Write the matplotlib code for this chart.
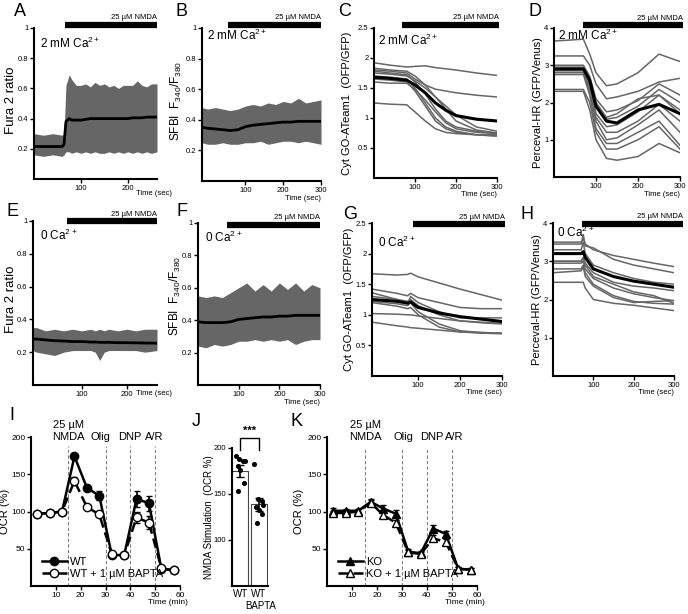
import numpy as np
import matplotlib
matplotlib.use("Agg")
import matplotlib.pyplot as plt
from matplotlib.lines import Line2D

plt.rcParams['font.family'] = ['Liberation Sans', 'DejaVu Sans']
plt.rcParams['mathtext.default'] = 'regular'

W, H = 688, 614
GRAY = '#666666'

# ---------------- data: dense bands (envelopes + mean) ----------------
tA = [0, 20, 40, 60, 64, 68, 75, 80, 90, 100, 110, 120, 130, 140, 150, 160, 170, 180, 190, 200, 210, 220, 230, 240, 250, 262]
A_up = [0.30, 0.29, 0.30, 0.29, 0.30, 0.62, 0.69, 0.66, 0.62, 0.62, 0.63, 0.61, 0.64, 0.62, 0.63, 0.61, 0.62, 0.60, 0.62, 0.62, 0.62, 0.65, 0.62, 0.61, 0.63, 0.63]
A_lo = [0.16, 0.15, 0.16, 0.15, 0.16, 0.18, 0.18, 0.17, 0.18, 0.17, 0.18, 0.17, 0.18, 0.17, 0.17, 0.18, 0.17, 0.18, 0.17, 0.18, 0.17, 0.18, 0.17, 0.18, 0.17, 0.18]
A_mean = [0.215, 0.215, 0.215, 0.215, 0.23, 0.38, 0.40, 0.39, 0.39, 0.39, 0.395, 0.40, 0.40, 0.40, 0.40, 0.40, 0.40, 0.40, 0.40, 0.40, 0.405, 0.405, 0.405, 0.41, 0.41, 0.41]

tB = [-15, 0, 20, 40, 60, 80, 100, 120, 140, 160, 180, 200, 220, 240, 260, 280, 300]
B_up = [0.48, 0.47, 0.48, 0.47, 0.46, 0.47, 0.49, 0.50, 0.49, 0.51, 0.50, 0.52, 0.51, 0.54, 0.51, 0.52, 0.53]
B_lo = [0.25, 0.24, 0.24, 0.25, 0.24, 0.24, 0.25, 0.25, 0.26, 0.24, 0.25, 0.26, 0.26, 0.25, 0.26, 0.25, 0.24]
B_mean = [0.35, 0.345, 0.34, 0.335, 0.33, 0.335, 0.355, 0.365, 0.37, 0.375, 0.38, 0.385, 0.385, 0.39, 0.39, 0.39, 0.39]

tE = [-8, 0, 20, 40, 60, 80, 100, 120, 130, 140, 150, 160, 180, 200, 220, 240, 267]
E_up = [0.35, 0.35, 0.33, 0.34, 0.33, 0.34, 0.33, 0.34, 0.33, 0.34, 0.33, 0.34, 0.33, 0.34, 0.33, 0.34, 0.34]
E_lo = [0.21, 0.20, 0.19, 0.18, 0.20, 0.21, 0.21, 0.21, 0.20, 0.15, 0.20, 0.21, 0.21, 0.21, 0.21, 0.20, 0.21]
E_mean = [0.28, 0.28, 0.275, 0.27, 0.268, 0.265, 0.265, 0.262, 0.262, 0.26, 0.26, 0.26, 0.258, 0.258, 0.257, 0.256, 0.255]

tF = [0, 20, 40, 60, 80, 100, 120, 140, 160, 180, 200, 220, 240, 260, 280, 300]
F_up = [0.55, 0.54, 0.55, 0.54, 0.57, 0.60, 0.63, 0.58, 0.62, 0.58, 0.63, 0.59, 0.63, 0.58, 0.62, 0.60]
F_lo = [0.24, 0.23, 0.25, 0.24, 0.25, 0.27, 0.27, 0.28, 0.27, 0.28, 0.27, 0.28, 0.25, 0.27, 0.28, 0.28]
F_mean = [0.39, 0.385, 0.385, 0.385, 0.39, 0.405, 0.41, 0.415, 0.42, 0.42, 0.425, 0.425, 0.43, 0.43, 0.43, 0.43]

# ---------------- data: individual traces ----------------
tC = [0, 40, 80, 100, 125, 150, 175, 200, 250, 300]
C_traces = [
    [1.92, 1.88, 1.85, 1.86, 1.87, 1.84, 1.82, 1.80, 1.75, 1.71],
    [1.80, 1.78, 1.75, 1.65, 1.55, 1.48, 1.45, 1.42, 1.38, 1.35],
    [1.83, 1.80, 1.78, 1.70, 1.55, 1.35, 1.15, 0.95, 0.80, 0.75],
    [1.78, 1.75, 1.72, 1.60, 1.40, 1.15, 0.95, 0.85, 0.78, 0.75],
    [1.70, 1.68, 1.65, 1.50, 1.25, 1.00, 0.85, 0.78, 0.72, 0.70],
    [1.65, 1.63, 1.60, 1.45, 1.20, 0.95, 0.82, 0.76, 0.72, 0.70],
    [1.60, 1.58, 1.58, 1.48, 1.30, 1.10, 0.92, 0.82, 0.76, 0.74],
    [1.75, 1.73, 1.70, 1.62, 1.50, 1.35, 1.20, 1.05, 0.85, 0.78],
    [1.25, 1.23, 1.22, 1.10, 0.95, 0.82, 0.76, 0.74, 0.72, 0.72],
]
C_mean = [1.68, 1.66, 1.63, 1.55, 1.42, 1.25, 1.13, 1.04, 0.98, 0.95]

tD = [0, 70, 85, 100, 125, 150, 200, 250, 300]
D_traces = [
    [3.65, 3.70, 3.30, 2.80, 2.45, 2.50, 2.80, 3.30, 3.10],
    [3.25, 3.25, 3.00, 2.50, 2.10, 2.15, 2.30, 2.55, 2.65],
    [3.00, 3.00, 2.70, 2.10, 1.75, 1.80, 2.05, 2.50, 2.20],
    [2.95, 2.95, 2.60, 1.90, 1.55, 1.60, 1.90, 2.35, 2.00],
    [2.90, 2.90, 2.50, 1.70, 1.35, 1.40, 1.75, 2.20, 1.70],
    [2.85, 2.85, 2.40, 1.60, 1.20, 1.20, 1.50, 1.95, 1.50],
    [2.80, 2.80, 2.30, 1.50, 1.00, 1.05, 1.40, 1.80, 1.20],
    [2.75, 2.75, 2.20, 1.30, 0.90, 0.90, 1.20, 1.50, 0.85],
    [2.35, 2.35, 2.00, 1.20, 0.75, 0.75, 1.00, 1.35, 0.75],
    [2.30, 2.30, 1.80, 1.00, 0.50, 0.45, 0.55, 0.90, 0.65],
    [2.90, 2.90, 2.60, 2.00, 1.60, 1.70, 2.10, 2.20, 1.80],
]
D_mean = [2.90, 2.90, 2.60, 1.90, 1.50, 1.45, 1.80, 1.95, 1.70]

tG = [-10, 50, 75, 82, 100, 150, 200, 250, 300]
G_traces = [
    [1.67, 1.65, 1.66, 1.68, 1.62, 1.52, 1.42, 1.33, 1.24],
    [1.42, 1.35, 1.31, 1.35, 1.28, 1.20, 1.12, 1.10, 1.10],
    [1.36, 1.25, 1.18, 1.30, 1.20, 1.05, 0.95, 0.95, 0.95],
    [1.30, 1.25, 1.22, 1.25, 1.15, 1.00, 0.90, 0.87, 0.85],
    [1.02, 1.01, 1.00, 1.00, 0.98, 0.94, 0.90, 0.88, 0.86],
    [0.88, 0.82, 0.80, 0.79, 0.78, 0.75, 0.72, 0.71, 0.70],
    [1.22, 1.18, 1.15, 1.20, 1.05, 0.85, 0.74, 0.71, 0.70],
    [1.20, 1.14, 1.10, 1.12, 1.00, 0.80, 0.72, 0.70, 0.69],
]
G_mean = [1.25, 1.22, 1.19, 1.21, 1.12, 1.03, 0.97, 0.93, 0.89]

tH = [0, 70, 75, 80, 100, 150, 200, 250, 300]
H_traces = [
    [3.50, 3.50, 3.60, 3.45, 3.30, 3.15, 3.05, 2.95, 2.86],
    [3.45, 3.45, 3.70, 3.40, 3.35, 3.05, 2.90, 2.80, 2.70],
    [3.30, 3.30, 3.50, 3.20, 2.90, 2.70, 2.55, 2.45, 2.40],
    [3.00, 3.00, 3.10, 2.95, 2.70, 2.45, 2.35, 2.30, 2.23],
    [2.95, 2.95, 3.00, 2.80, 2.55, 2.30, 2.15, 2.05, 1.97],
    [2.80, 2.80, 2.90, 2.70, 2.40, 2.10, 1.95, 1.90, 1.88],
    [2.70, 2.75, 2.85, 2.60, 2.35, 2.05, 1.92, 1.95, 1.97],
    [2.45, 2.45, 2.45, 2.30, 2.00, 1.90, 1.85, 1.78, 1.71],
    [3.00, 3.00, 3.10, 2.90, 2.60, 2.40, 2.20, 2.10, 1.90],
]
H_mean = [3.20, 3.20, 3.25, 3.10, 2.80, 2.60, 2.48, 2.40, 2.32]

# ---------------- data: OCR time courses ----------------
t_ocr = [2.5, 7.5, 12.5, 17.5, 22.5, 27.5, 32.5, 37.5, 42.5, 47.5, 52.5, 57.5]
wt = [97, 98, 100, 174, 132, 121, 42, 41, 117, 111, 23, 21]
wt_err = [2, 2, 2, 3, 3, 6, 2, 2, 11, 10, 2, 2]
wt_bapta = [97, 98, 100, 141, 106, 96, 43, 41, 92, 85, 24, 21]
wt_bapta_err = [2, 2, 2, 5, 3, 3, 2, 2, 8, 9, 2, 2]
ko = [101, 101, 101, 113, 104, 97, 46, 44, 77, 70, 23, 22]
ko_err = [4, 3, 2, 4, 5, 5, 3, 3, 5, 4, 2, 2]
ko_bapta = [98, 98, 100, 112, 95, 85, 45, 43, 64, 59, 23, 22]
ko_bapta_err = [3, 3, 3, 4, 4, 4, 3, 3, 4, 4, 2, 2]
drug_times = [15, 30, 40, 50]

# ---------------- data: NMDA stimulation bars ----------------
j_groups = ['WT', 'WT']
j_means = [175, 139]
j_sem = [6, 7]
j_wt_pts = [191, 188, 186, 186, 180, 176, 162, 153]
j_bapta_pts = [183, 145, 142, 138, 136, 133, 128, 119]

fig = plt.figure(figsize=(W / 100, H / 100), dpi=100)


def px_ax(l, t, r, b):
    return fig.add_axes([l / W, 1 - b / H, (r - l) / W, (b - t) / H])


def style(ax, fs=5.5):
    for s in ['top', 'right']:
        ax.spines[s].set_visible(False)
    for s in ['left', 'bottom']:
        ax.spines[s].set_linewidth(1.5)
    ax.tick_params(direction='out', length=3, width=1, labelsize=fs, pad=1)


def nmda_bar(ax, t0, t1, y, ty):
    ax.plot([t0, t1], [y, y], color='black', lw=4.5, solid_capstyle='butt', clip_on=False)
    ax.text(t1, ty, '25 µM NMDA', ha='right', va='bottom', fontsize=5.5)


def time_label(ax, x, y, ha='right'):
    ax.text(x, y, 'Time (sec)', transform=ax.transAxes, ha=ha, va='center', fontsize=5.5)


def fmt(v):
    return ('%g' % v)


# ---- A ----
ax = px_ax(34, 28, 157, 179)
style(ax)
ax.fill_between(tA, A_lo, A_up, color=GRAY, lw=0)
ax.plot(tA, A_mean, color='black', lw=2)
ax.set_xlim(0, 262); ax.set_ylim(0, 1)
ax.set_xticks([100, 200]); ax.set_yticks([0.2, 0.4, 0.6, 0.8, 1])
ax.set_yticklabels([fmt(v) for v in [0.2, 0.4, 0.6, 0.8, 1]])
ax.set_ylabel('Fura 2 ratio', fontsize=9.5)
ax.yaxis.set_label_coords(-0.142, 0.52)
ax.text(0.05, 0.9, '2 mM Ca$^{2+}$', transform=ax.transAxes, fontsize=8.5, va='center')
nmda_bar(ax, 66, 262, 1.02, 1.045)
time_label(ax, 0.83, -0.095, ha='left')

# ---- B ----
ax = px_ax(202, 28, 321, 181)
style(ax)
ax.fill_between(tB, B_lo, B_up, color=GRAY, lw=0)
ax.plot(tB, B_mean, color='black', lw=2)
ax.set_xlim(-15, 300); ax.set_ylim(0, 1)
ax.set_xticks([100, 200, 300]); ax.set_yticks([0.2, 0.4, 0.6, 0.8, 1])
ax.set_yticklabels([fmt(v) for v in [0.2, 0.4, 0.6, 0.8, 1]])
ax.set_ylabel('SFBI  F$_{340}$/F$_{380}$', fontsize=8.5)
ax.yaxis.set_label_coords(-0.15, 0.52)
ax.text(0.04, 0.95, '2 mM Ca$^{2+}$', transform=ax.transAxes, fontsize=8.5, va='center')
nmda_bar(ax, 55, 300, 1.02, 1.045)
time_label(ax, 1.0, -0.115)

# ---- C ----
ax = px_ax(374, 28, 497, 178)
style(ax)
for tr in C_traces:
    ax.plot(tC, tr, color=GRAY, lw=1.1)
ax.plot(tC, C_mean, color='black', lw=2.2)
ax.set_xlim(0, 300); ax.set_ylim(0, 2.5)
ax.set_xticks([100, 200, 300]); ax.set_yticks([0.5, 1, 1.5, 2, 2.5])
ax.set_yticklabels([fmt(v) for v in [0.5, 1, 1.5, 2, 2.5]])
ax.set_ylabel('Cyt GO-ATeam1  (OFP/GFP)', fontsize=8)
ax.yaxis.set_label_coords(-0.175, 0.5)
ax.text(0.03, 0.92, '2 mM Ca$^{2+}$', transform=ax.transAxes, fontsize=8.5, va='center')
nmda_bar(ax, 68, 305, 2.55, 2.61)
time_label(ax, 1.0, -0.11)

# ---- D ----
ax = px_ax(554, 28, 680, 177)
style(ax)
for tr in D_traces:
    ax.plot(tD, tr, color=GRAY, lw=1.1)
ax.plot(tD, D_mean, color='black', lw=2.2)
ax.set_xlim(0, 300); ax.set_ylim(0, 4)
ax.set_xticks([100, 200, 300]); ax.set_yticks([1, 2, 3, 4])
ax.set_ylabel('Perceval-HR (GFP/Venus)', fontsize=8)
ax.yaxis.set_label_coords(-0.09, 0.5)
ax.text(0.03, 0.95, '2 mM Ca$^{2+}$', transform=ax.transAxes, fontsize=8.5, va='center')
nmda_bar(ax, 69, 307, 4.07, 4.16)
time_label(ax, 1.0, -0.115)

# ---- E ----
ax = px_ax(33, 221, 157, 385)
style(ax)
ax.fill_between(tE, E_lo, E_up, color=GRAY, lw=0)
ax.plot(tE, E_mean, color='black', lw=2)
ax.set_xlim(-8, 267); ax.set_ylim(0, 1)
ax.set_xticks([100, 200]); ax.set_yticks([0.2, 0.4, 0.6, 0.8, 1])
ax.set_yticklabels([fmt(v) for v in [0.2, 0.4, 0.6, 0.8, 1]])
ax.set_ylabel('Fura 2 ratio', fontsize=9.5)
ax.yaxis.set_label_coords(-0.133, 0.52)
ax.text(0.06, 0.91, '0 Ca$^{2+}$', transform=ax.transAxes, fontsize=8.5, va='center')
nmda_bar(ax, 67, 267, 1.0, 1.02)
time_label(ax, 0.83, -0.05, ha='left')

# ---- F ----
ax = px_ax(198, 223, 320, 385)
style(ax)
ax.fill_between(tF, F_lo, F_up, color=GRAY, lw=0)
ax.plot(tF, F_mean, color='black', lw=2)
ax.set_xlim(0, 300); ax.set_ylim(0, 1)
ax.set_xticks([100, 200, 300]); ax.set_yticks([0.2, 0.4, 0.6, 0.8, 1])
ax.set_yticklabels([fmt(v) for v in [0.2, 0.4, 0.6, 0.8, 1]])
ax.set_ylabel('SFBI  F$_{340}$/F$_{380}$', fontsize=8.5)
ax.yaxis.set_label_coords(-0.12, 0.55)
ax.text(0.06, 0.91, '0 Ca$^{2+}$', transform=ax.transAxes, fontsize=8.5, va='center')
nmda_bar(ax, 71, 300, 0.99, 1.01)
time_label(ax, 1.0, -0.11)

# ---- G ----
ax = px_ax(372, 223, 502, 376)
style(ax)
for tr in G_traces:
    ax.plot(tG, tr, color=GRAY, lw=1.1)
ax.plot(tG, G_mean, color='black', lw=2.2)
ax.set_xlim(-10, 300); ax.set_ylim(0, 2.5)
ax.set_xticks([100, 200, 300]); ax.set_yticks([0.5, 1, 1.5, 2, 2.5])
ax.set_yticklabels([fmt(v) for v in [0.5, 1, 1.5, 2, 2.5]])
ax.set_ylabel('Cyt GO-ATeam1  (OFP/GFP)', fontsize=8)
ax.yaxis.set_label_coords(-0.142, 0.5)
ax.text(0.05, 0.87, '0 Ca$^{2+}$', transform=ax.transAxes, fontsize=8.5, va='center')
nmda_bar(ax, 88, 307, 2.48, 2.54)
time_label(ax, 1.0, -0.11)

# ---- H ----
ax = px_ax(553, 223, 674, 376)
style(ax)
for tr in H_traces:
    ax.plot(tH, tr, color=GRAY, lw=1.1)
ax.plot(tH, H_mean, color='black', lw=2.2)
ax.set_xlim(0, 300); ax.set_ylim(0, 4)
ax.set_xticks([100, 200, 300]); ax.set_yticks([1, 2, 3, 4])
ax.set_ylabel('Perceval-HR (GFP/Venus)', fontsize=8)
ax.yaxis.set_label_coords(-0.09, 0.5)
ax.text(0.03, 0.94, '0 Ca$^{2+}$', transform=ax.transAxes, fontsize=8.5, va='center')
nmda_bar(ax, 72, 322, 3.97, 4.07)
time_label(ax, 1.0, -0.11)


# ---- I & K ----
def ocr_panel(ax, a, a_err, b, b_err, mk, names, top):
    style(ax, fs=6)
    ax.errorbar(t_ocr, a, yerr=a_err, color='black', lw=1.8, marker=mk, ms=6,
                mfc='black', mec='black', capsize=2.5, elinewidth=1.2, zorder=3)
    ax.errorbar(t_ocr, b, yerr=b_err, color='black', lw=1.8, ls=(0, (4, 2)), marker=mk, ms=6,
                mfc='white', mec='black', capsize=2.5, elinewidth=1.2, zorder=4)
    for xv in drug_times:
        ax.plot([xv, xv], [0, top], color='gray', lw=0.8, ls=(0, (3, 2)), zorder=1)
    ax.set_xlim(0, 60); ax.set_ylim(0, 200)
    ax.set_xticks([10, 20, 30, 40, 50, 60]); ax.set_yticks([50, 100, 150, 200])
    ax.set_ylabel('OCR (%)', fontsize=8)
    ax.text(1.05, -0.11, 'Time (min)', transform=ax.transAxes, ha='right', va='center', fontsize=6)
    h = [Line2D([], [], color='black', lw=1.8, marker=mk, ms=6, mfc='black'),
         Line2D([], [], color='black', lw=1.8, ls=(0, (4, 2)), marker=mk, ms=6, mfc='white')]
    ax.legend(h, names, loc='lower left', bbox_to_anchor=(0.03, 0.0), frameon=False,
              fontsize=8, handlelength=2.2, handletextpad=0.3, labelspacing=0.2, borderaxespad=0.2)


ax = px_ax(31, 437, 180, 586)
ocr_panel(ax, wt, wt_err, wt_bapta, wt_bapta_err, 'o', ['WT', 'WT + 1 µM BAPTA'], 188)
ax.yaxis.set_label_coords(-0.14, 0.5)
ax.text(15, 216, '25 µM', ha='center', va='center', fontsize=8, clip_on=False)
ax.text(15, 200, 'NMDA', ha='center', va='center', fontsize=8, clip_on=False)
ax.text(28, 200, 'Olig', ha='center', va='center', fontsize=8)
ax.text(39.6, 200, 'DNP', ha='center', va='center', fontsize=8)
ax.text(49.6, 200, 'A/R', ha='center', va='center', fontsize=8)

ax = px_ax(327, 437, 477, 586)
ocr_panel(ax, ko, ko_err, ko_bapta, ko_bapta_err, '^', ['KO', 'KO + 1 µM BAPTA'], 184)
ax.yaxis.set_label_coords(-0.15, 0.5)
ax.text(15.2, 216, '25 µM', ha='center', va='center', fontsize=8, clip_on=False)
ax.text(15.2, 200, 'NMDA', ha='center', va='center', fontsize=8, clip_on=False)
ax.text(30.4, 200, 'Olig', ha='center', va='center', fontsize=8)
ax.text(42, 200, 'DNP', ha='center', va='center', fontsize=8)
ax.text(51, 200, 'A/R', ha='center', va='center', fontsize=8)

# ---- J ----
ax = px_ax(232, 448, 268, 586)
style(ax, fs=5.5)
xj = np.arange(len(j_groups))
ax.bar(xj, j_means, width=0.85, bottom=0, color='white', edgecolor='#444444', lw=0.8, zorder=1)
ax.errorbar(xj, j_means, yerr=j_sem, fmt='none', ecolor='black', capsize=3, elinewidth=1.2, zorder=3)
for i, pts in enumerate([j_wt_pts, j_bapta_pts]):
    offs = np.array([-0.25, -0.05, 0.15, 0.25, -0.15, 0.0, 0.2, -0.1])[:len(pts)]
    ax.scatter(xj[i] + offs, pts, s=7, color='black', zorder=4)
ax.set_xlim(-0.45, 1.5); ax.set_ylim(50, 200)
ax.set_yticks([100, 150, 200])
ax.set_xticks(xj); ax.set_xticklabels(j_groups, fontsize=7)
ax.tick_params(axis='x', length=0, pad=2)
ax.text(1.1, -0.145, 'BAPTA', transform=ax.get_xaxis_transform(), ha='center', va='center', fontsize=7)
ax.set_ylabel('NMDA Stimulation  (OCR %)', fontsize=7)
ax.yaxis.set_label_coords(-0.5, 0.5)
ax.plot([0, 0, 1, 1], [198, 211, 211, 198], color='black', lw=1, clip_on=False)
ax.text(0.5, 213, '***', ha='center', va='bottom', fontsize=8, fontweight='bold')

# panel letters
letters = [('A', 20, 11), ('B', 181, 11), ('C', 345, 11), ('D', 535, 11),
           ('E', 13, 212), ('F', 182, 212), ('G', 350, 215), ('H', 527, 215),
           ('I', 12, 415), ('J', 196, 422), ('K', 297, 422)]
for s, x, y in letters:
    fig.text(x / W, 1 - y / H, s, fontsize=13, ha='center', va='center')

fig.savefig('out.png', dpi=100)
